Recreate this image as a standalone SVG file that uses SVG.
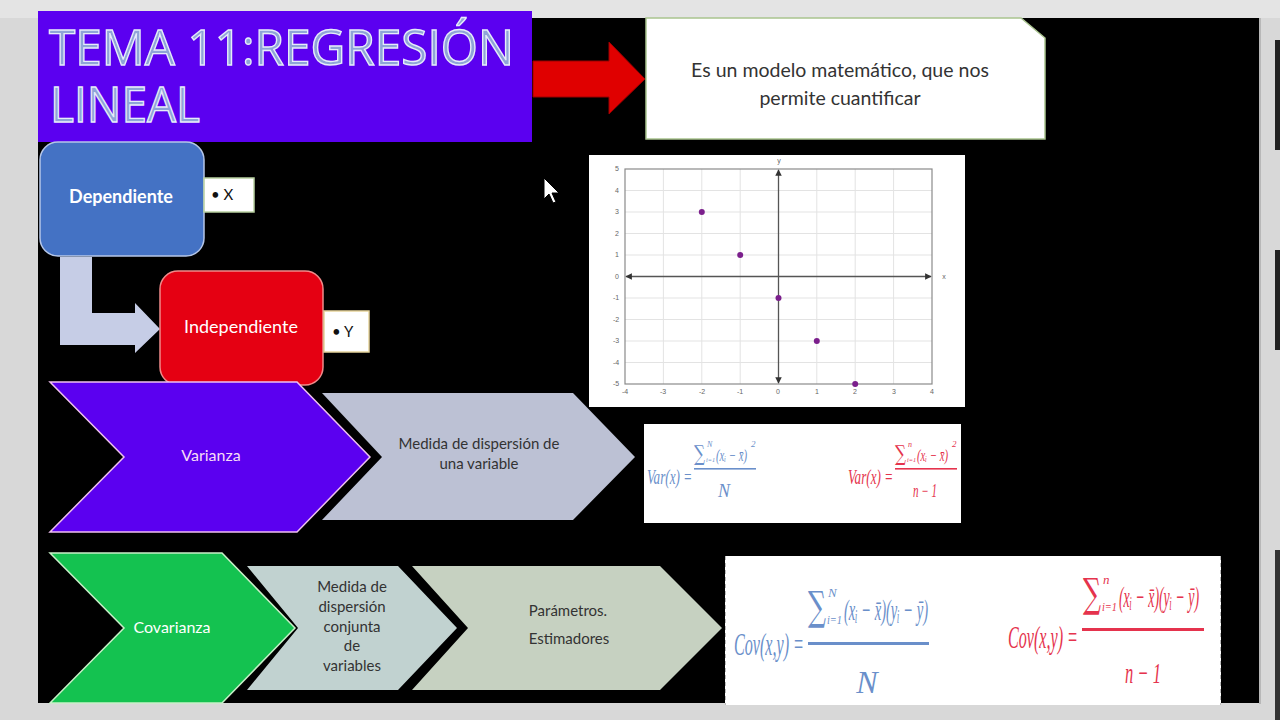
<svg xmlns="http://www.w3.org/2000/svg" width="1280" height="720" viewBox="0 0 1280 720">
<defs>
<style>
.body{font-family:Lato,"Open Sans","Liberation Sans",sans-serif;}
.title{font-family:"Open Sans","Liberation Sans",sans-serif;font-size:50px;fill:#8fa4d8;stroke:#e6ecfa;stroke-width:1.4px;}
.wht{fill:#ffffff;}
.dark{fill:#333333;}
.tick{font-family:"Liberation Sans",sans-serif;font-size:7px;fill:#666;text-anchor:middle;}
.grid{stroke:#e3e3e3;stroke-width:1;}
.math{font-family:"Liberation Serif","DejaVu Serif",serif;font-style:italic;}
.sig{font-family:"DejaVu Serif",serif;font-style:normal;}
.blue{fill:#6a8fca;}
.red{fill:#e5334d;}
</style>
<marker id="ah" viewBox="0 0 10 10" refX="9" refY="5" markerWidth="5" markerHeight="5" orient="auto-start-reverse"><path d="M0,0 L10,5 L0,10 z" fill="#333"/></marker>
</defs>
<rect width="1280" height="720" fill="#d8d8d8"/>
<rect x="0" y="0" width="1280" height="18" fill="#e4e4e4"/>
<rect x="38" y="18" width="1221" height="685" fill="#000"/>
<rect x="1259" y="18" width="2" height="686" fill="#b8b8b8"/>
<rect x="1275" y="40" width="5" height="110" fill="#222"/>
<rect x="1275" y="250" width="5" height="100" fill="#222"/>
<rect x="1275" y="550" width="5" height="170" fill="#333"/>

<g id="connectors">
<polygon points="533,61 609,61 609,42 645,79 609,114 609,97 533,97" fill="#e00000" stroke="#9a0000" stroke-width="1"/>
<polygon points="60,257 92,257 92,313 135,313 135,303 160,329 135,353 135,345 60,345" fill="#c6cde6"/>
</g>

<g id="title">
<rect x="38" y="11" width="494" height="131" fill="#5b00f0"/>
<text class="title" x="49" y="65" textLength="465" lengthAdjust="spacingAndGlyphs">TEMA 11:REGRESIÓN</text>
<text class="title" x="50" y="122" textLength="150" lengthAdjust="spacingAndGlyphs">LINEAL</text>
</g>

<g id="definition">
<polygon points="646,18 1021,18 1045,38 1045,139 646,139" fill="#fff" stroke="#a9c38f" stroke-width="1.5"/>
<text class="body dark" x="840" y="77" font-size="19.5" text-anchor="middle">Es un modelo matemático, que nos</text>
<text class="body dark" x="840" y="105" font-size="19.5" text-anchor="middle">permite cuantificar</text>
</g>

<g id="cursor">
<polygon points="544,178 544,199 549,194 553,203 556,202 552,193 559,193" fill="#fff" stroke="#000" stroke-width="1"/>
</g>

<g id="dependiente">
<rect x="40" y="142" width="164" height="114" rx="18" fill="#4472c4" stroke="#b5c6e8" stroke-width="1.5"/>
<text class="body wht" x="121" y="203" font-size="18" font-weight="bold" text-anchor="middle">Dependiente</text>
</g>
<g id="x-label">
<rect x="204" y="178" width="50" height="34" fill="#fff" stroke="#b8d0a0" stroke-width="1.5"/>
<text class="body" x="211" y="200" font-size="15" fill="#111">• X</text>
</g>

<g id="independiente">
<rect x="160" y="271" width="163" height="114" rx="18" fill="#e50012" stroke="#f08a8a" stroke-width="1.5"/>
<text class="body wht" x="241" y="333" font-size="18" text-anchor="middle">Independiente</text>
</g>
<g id="y-label">
<rect x="324" y="311" width="45" height="41" fill="#fff" stroke="#e6d49c" stroke-width="1.5"/>
<text class="body" x="332" y="337" font-size="15" fill="#111">• Y</text>
</g>

<g id="varianza-detail">
<polygon points="322,393 573,393 635,457 573,520 322,520 382,457" fill="#bcc1d4"/>
<text class="body dark" x="479" y="449" font-size="15" text-anchor="middle">Medida de dispersión de</text>
<text class="body dark" x="479" y="469" font-size="15" text-anchor="middle">una variable</text>
</g>
<g id="varianza">
<polygon points="50,382 297,382 370,457 297,532 50,532 124,457" fill="#5b00f0" stroke="#f0c0f0" stroke-width="1.5"/>
<text class="body" x="211" y="461" font-size="16" fill="#f6dcf6" text-anchor="middle">Varianza</text>
</g>

<g id="scatter">
<rect x="589" y="155" width="376" height="252" fill="#fff"/>
<g class="grid">
<line x1="663.4" y1="169" x2="663.4" y2="384"/><line x1="701.8" y1="169" x2="701.8" y2="384"/><line x1="740.2" y1="169" x2="740.2" y2="384"/>
<line x1="816.8" y1="169" x2="816.8" y2="384"/><line x1="855.2" y1="169" x2="855.2" y2="384"/><line x1="893.6" y1="169" x2="893.6" y2="384"/>
<line x1="625" y1="190.5" x2="932" y2="190.5"/><line x1="625" y1="212" x2="932" y2="212"/><line x1="625" y1="233.5" x2="932" y2="233.5"/><line x1="625" y1="255" x2="932" y2="255"/>
<line x1="625" y1="298" x2="932" y2="298"/><line x1="625" y1="319.5" x2="932" y2="319.5"/><line x1="625" y1="341" x2="932" y2="341"/><line x1="625" y1="362.5" x2="932" y2="362.5"/>
</g>
<rect x="625" y="169" width="307" height="215" fill="none" stroke="#8a8a8a" stroke-width="1.2"/>
<line x1="626" y1="276.5" x2="931" y2="276.5" stroke="#555" stroke-width="1.3" marker-start="url(#ah)" marker-end="url(#ah)"/>
<line x1="778.5" y1="170" x2="778.5" y2="383" stroke="#555" stroke-width="1.3" marker-start="url(#ah)" marker-end="url(#ah)"/>
<text class="tick" x="779" y="163">y</text>
<text class="tick" x="944" y="279">x</text>
<text class="tick" x="625" y="394">-4</text><text class="tick" x="663" y="394">-3</text><text class="tick" x="702" y="394">-2</text><text class="tick" x="740" y="394">-1</text><text class="tick" x="778" y="394">0</text><text class="tick" x="817" y="394">1</text><text class="tick" x="855" y="394">2</text><text class="tick" x="894" y="394">3</text><text class="tick" x="932" y="394">4</text>
<text class="tick" x="617" y="171">5</text><text class="tick" x="617" y="193">4</text><text class="tick" x="617" y="214">3</text><text class="tick" x="617" y="236">2</text><text class="tick" x="617" y="257">1</text><text class="tick" x="617" y="279">0</text><text class="tick" x="616" y="300">-1</text><text class="tick" x="616" y="322">-2</text><text class="tick" x="616" y="343">-3</text><text class="tick" x="616" y="365">-4</text><text class="tick" x="616" y="386">-5</text>
<g fill="#7b1f8c">
<circle cx="701.8" cy="212" r="3"/><circle cx="740.2" cy="255" r="3"/><circle cx="778.5" cy="298" r="3"/><circle cx="816.8" cy="341" r="3"/><circle cx="855.2" cy="384" r="3"/>
</g>
</g>

<g id="var-formulas">
<rect x="644" y="424" width="317" height="99" fill="#fff"/>
<g class="math blue">
<text x="647" y="484" font-size="20" textLength="45" lengthAdjust="spacingAndGlyphs">Var(x) =</text>
<text class="sig" x="694" y="461" font-size="22" textLength="11" lengthAdjust="spacingAndGlyphs">∑</text>
<text x="707" y="447" font-size="8">N</text>
<text x="706" y="462" font-size="7" textLength="9" lengthAdjust="spacingAndGlyphs">i=1</text>
<text x="716" y="461" font-size="17" textLength="31" lengthAdjust="spacingAndGlyphs">(xᵢ − x̄)</text>
<text x="751" y="447" font-size="9">2</text>
<rect x="694" y="468" width="62" height="1.6"/>
<text x="724" y="497" font-size="18" text-anchor="middle">N</text>
</g>
<g class="math red">
<text x="848" y="484" font-size="20" textLength="45" lengthAdjust="spacingAndGlyphs">Var(x) =</text>
<text class="sig" x="895" y="461" font-size="22" textLength="11" lengthAdjust="spacingAndGlyphs">∑</text>
<text x="908" y="447" font-size="8">n</text>
<text x="907" y="462" font-size="7" textLength="9" lengthAdjust="spacingAndGlyphs">i=1</text>
<text x="917" y="461" font-size="17" textLength="31" lengthAdjust="spacingAndGlyphs">(xᵢ − x̄)</text>
<text x="952" y="447" font-size="9">2</text>
<rect x="895" y="468" width="62" height="1.6"/>
<text x="925" y="497" font-size="18" text-anchor="middle" textLength="24" lengthAdjust="spacingAndGlyphs">n − 1</text>
</g>
</g>

<g id="covarianza-params">
<polygon points="412,566 660,566 722,628 660,690 412,690 468,628" fill="#c6d1c1"/>
<text class="body dark" x="568" y="616" font-size="15" text-anchor="middle">Parámetros.</text>
<text class="body dark" x="569" y="644" font-size="15" text-anchor="middle">Estimadores</text>
</g>
<g id="covarianza-detail">
<polygon points="247,566 398,566 457,628 398,690 247,690 298,628" fill="#c1d2d0"/>
<text class="body dark" x="352" y="592" font-size="15" text-anchor="middle">Medida de</text>
<text class="body dark" x="352" y="612" font-size="15" text-anchor="middle">dispersión</text>
<text class="body dark" x="352" y="632" font-size="15" text-anchor="middle">conjunta</text>
<text class="body dark" x="352" y="651" font-size="15" text-anchor="middle">de</text>
<text class="body dark" x="352" y="671" font-size="15" text-anchor="middle">variables</text>
</g>
<g id="covarianza">
<polygon points="50,553 222,553 295,628 222,703 50,703 124,628" fill="#14c250" stroke="#c8f0c8" stroke-width="1.5"/>
<text class="body wht" x="172" y="633" font-size="16" text-anchor="middle">Covarianza</text>
</g>

<g id="cov-formulas">
<rect x="725" y="556" width="496" height="149" fill="#fff"/>
<line x1="725.5" y1="556" x2="725.5" y2="705" stroke="#bbb" stroke-dasharray="4 3"/>
<line x1="1220.5" y1="556" x2="1220.5" y2="705" stroke="#bbb" stroke-dasharray="4 3"/>
<g class="math blue">
<text x="734" y="655" font-size="32" textLength="70" lengthAdjust="spacingAndGlyphs">Cov(x,y) =</text>
<text class="sig" x="808" y="620" font-size="40" textLength="18" lengthAdjust="spacingAndGlyphs">∑</text>
<text x="828" y="597" font-size="13">N</text>
<text x="827" y="624" font-size="12" textLength="15" lengthAdjust="spacingAndGlyphs">i=1</text>
<text x="844" y="620" font-size="30" textLength="84" lengthAdjust="spacingAndGlyphs">(xᵢ − x̄)(yᵢ − ȳ)</text>
<rect x="808" y="642" width="121" height="3"/>
<text x="867" y="693" font-size="32" text-anchor="middle">N</text>
</g>
<g class="math red">
<text x="1008" y="648" font-size="32" textLength="70" lengthAdjust="spacingAndGlyphs">Cov(x,y) =</text>
<text class="sig" x="1083" y="607" font-size="40" textLength="18" lengthAdjust="spacingAndGlyphs">∑</text>
<text x="1103" y="584" font-size="13">n</text>
<text x="1102" y="611" font-size="12" textLength="15" lengthAdjust="spacingAndGlyphs">i=1</text>
<text x="1119" y="607" font-size="30" textLength="80" lengthAdjust="spacingAndGlyphs">(xᵢ − x̄)(yᵢ − ȳ)</text>
<rect x="1082" y="628" width="122" height="3"/>
<text x="1143" y="683" font-size="30" text-anchor="middle" textLength="36" lengthAdjust="spacingAndGlyphs">n − 1</text>
</g>
</g>
</svg>
